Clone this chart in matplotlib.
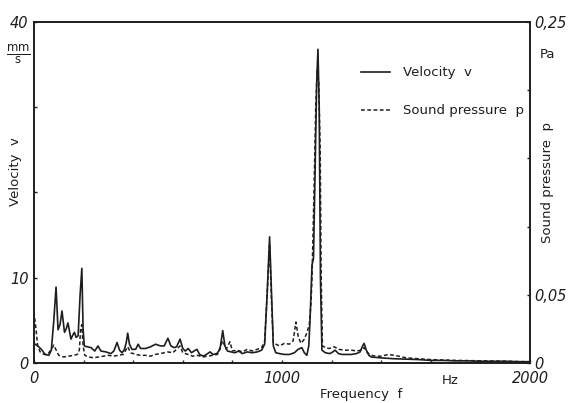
# Velocity and sound pressure spectrum, redrawn from scan
import numpy as np
import matplotlib
matplotlib.use("Agg")
import matplotlib.pyplot as plt

# velocity v in mm/s
vel_freq = [0, 15, 30, 45, 60, 70, 80, 89, 97, 105, 113, 123, 130, 137, 149, 157, 163, 170, 178, 186,
            193, 198, 203, 215, 230, 245, 258, 270, 290, 310, 322, 335, 345, 355, 365, 372, 378, 385,
            395, 410, 420, 430, 450, 470, 490, 510, 525, 540, 552, 565, 575, 589, 600, 610, 622, 635,
            645, 657, 668, 683, 695, 710, 722, 737, 750, 761, 770, 780, 795, 810, 825, 840, 860, 880,
            900, 918, 930, 940, 950, 958, 965, 975, 990, 1010, 1030, 1050, 1065, 1080, 1090, 1100,
            1108, 1113, 1121, 1127, 1133, 1140, 1145, 1150, 1155, 1161, 1175, 1193, 1205, 1214, 1228,
            1242, 1260, 1280, 1300, 1315, 1325, 1331, 1340, 1350, 1360, 1400, 1450, 1500, 1550, 1600,
            1650, 1700, 1750, 1800, 1850, 1900, 1950, 2000]
vel = [2.3, 2.0, 1.6, 1.0, 0.9, 1.5, 5.0, 8.9, 3.9, 4.5, 6.1, 3.6, 4.0, 4.7, 2.8, 3.3, 3.6, 3.0, 3.2, 8.0,
       11.1, 4.0, 2.0, 1.9, 1.8, 1.4, 2.0, 1.4, 1.3, 1.1, 1.4, 2.4, 1.5, 1.2, 1.6, 2.4, 3.5, 2.2,
       1.6, 1.6, 2.2, 1.7, 1.7, 1.9, 2.2, 2.0, 2.0, 2.9, 2.0, 1.8, 1.9, 2.8, 1.7, 1.4, 1.7, 1.2,
       1.4, 1.6, 1.0, 0.8, 1.0, 1.3, 1.0, 1.1, 1.6, 3.8, 2.0, 1.4, 1.3, 1.2, 1.4, 1.1, 1.3, 1.2,
       1.3, 1.5, 2.2, 8.0, 14.8, 8.0, 2.0, 1.2, 1.1, 1.0, 1.0, 1.2, 1.6, 1.8, 1.2, 0.9,
       2.0, 5.0, 11.5, 12.3, 22.0, 33.0, 36.8, 30.0, 10.0, 1.5, 1.2, 1.1, 1.3, 1.5, 1.1,
       1.0, 1.0, 1.0, 1.1, 1.3, 2.0, 2.3, 1.5, 0.9, 0.7, 0.6, 0.5, 0.45, 0.4, 0.3,
       0.3, 0.25, 0.25, 0.2, 0.2, 0.2, 0.15, 0.15]

# sound pressure p in Pa
pres_freq = [0, 8, 15, 25, 40, 55, 70, 80, 88, 100, 120, 140, 160, 175, 183, 188, 193, 198, 205, 220,
             240, 260, 280, 300, 320, 340, 360, 378, 390, 410, 430, 450, 470, 490, 510, 540, 560,
             589, 600, 620, 640, 660, 680, 700, 720, 740, 761, 775, 790, 800, 820, 840, 860, 880,
             900, 918, 930, 940, 950, 958, 965, 975, 990, 1010, 1030, 1045, 1056, 1066, 1077, 1090,
             1100, 1110, 1117, 1121, 1129, 1136, 1142, 1148, 1154, 1158, 1163, 1175, 1190, 1210,
             1230, 1250, 1280, 1300, 1320, 1331, 1345, 1360, 1380, 1400, 1430, 1470, 1500, 1550,
             1600, 1700, 1800, 1900, 2000]
pres = [0.0375, 0.025, 0.0125, 0.0081, 0.0063, 0.0063, 0.010, 0.0131, 0.010, 0.0056, 0.0044, 0.005,
        0.0056, 0.0063, 0.0094, 0.025, 0.0281, 0.0125, 0.0056, 0.0044,
        0.0038, 0.0044, 0.005, 0.0056, 0.005, 0.0056, 0.0063, 0.0119, 0.0075, 0.0063, 0.0056, 0.0056,
        0.005, 0.0063, 0.0069, 0.0081, 0.0075,
        0.0125, 0.0075, 0.0063, 0.005, 0.0056, 0.0044, 0.005, 0.0056, 0.0063, 0.0163, 0.010, 0.0156,
        0.0088, 0.0094, 0.0081, 0.010, 0.0088,
        0.010, 0.0113, 0.0156, 0.05, 0.0875, 0.0438, 0.015, 0.0138, 0.0125, 0.0144, 0.0138, 0.0163,
        0.030, 0.0188, 0.0144, 0.0175,
        0.0219, 0.0281, 0.0438, 0.0625, 0.125, 0.1875, 0.2156, 0.2063, 0.1563, 0.0625, 0.0125,
        0.0113, 0.0106, 0.0119,
        0.010, 0.0094, 0.0094, 0.0088, 0.0094, 0.0113, 0.0075, 0.0056, 0.005, 0.005, 0.0063, 0.005,
        0.0038, 0.0031,
        0.0025, 0.0019, 0.0016, 0.0013, 0.0009]

ink = "#1e1e1e"
plt.rcParams["font.family"] = "DejaVu Sans"

fig = plt.figure(figsize=(5.72, 4.03), dpi=100)
ax = fig.add_axes([0.0594, 0.0993, 0.8672, 0.8462])
ax2 = ax.twinx()

l1, = ax.plot(vel_freq, vel, color=ink, lw=1.2, label="Velocity  v")
l2, = ax2.plot(pres_freq, pres, color=ink, lw=1.1, ls=(0, (2.5, 1.6)), label="Sound pressure  p")

ax.set_xlim(0, 2000)
ax.set_ylim(0, 40)
ax2.set_ylim(0, 0.25)

for a in (ax, ax2):
    for s in a.spines.values():
        s.set_color(ink)
        s.set_linewidth(1.2)

ax.set_xticks(np.arange(0, 2001, 200))
ax.set_xticklabels(["0", "", "", "", "", "1000", "", "", "", "", "2000"],
                   fontsize=10.5, style="italic", color=ink)
ax.set_yticks([0, 10, 20, 30, 40])
ax.set_yticklabels(["0", "10", "", "", "40"], fontsize=10.5, style="italic", color=ink)
ax2.set_yticks([0, 0.05, 0.1, 0.15, 0.2, 0.25])
ax2.set_yticklabels(["0", "0,05", "", "", "", "0,25"], fontsize=10.5, style="italic", color=ink)
ax.tick_params(axis="x", direction="in", length=2.5, width=1, color=ink, pad=6)
ax.tick_params(axis="y", direction="in", length=2.5, width=1, color=ink, pad=4)
ax2.tick_params(axis="y", direction="in", length=2.5, width=1, color=ink, pad=3)

ax.text(1677, -1.3, "Hz", fontsize=9.5, color=ink, ha="center", va="top")
ax.text(-0.032, 0.905, r"$\frac{\mathrm{mm}}{\mathrm{s}}$", transform=ax.transAxes,
        fontsize=12, color=ink, ha="center", va="center")
ax.text(1.036, 0.905, "Pa", transform=ax.transAxes, fontsize=9.5, color=ink,
        ha="center", va="center")
ax.text(-0.038, 0.56, "Velocity  v", transform=ax.transAxes, fontsize=9.5, color=ink,
        rotation=90, ha="center", va="center")
ax.text(1.036, 0.53, "Sound pressure  p", transform=ax.transAxes, fontsize=9.5, color=ink,
        rotation=90, ha="center", va="center")
ax.text(0.66, -0.072, "Frequency  f", transform=ax.transAxes, fontsize=9.5, color=ink,
        ha="center", va="top")

ax.legend(handles=[l1, l2], loc="upper left", bbox_to_anchor=(0.635, 0.905), frameon=False,
          fontsize=9.5, handlelength=2.2, handletextpad=1.0, labelspacing=1.9, labelcolor=ink)

fig.savefig("out.png", dpi=100, facecolor="white")
